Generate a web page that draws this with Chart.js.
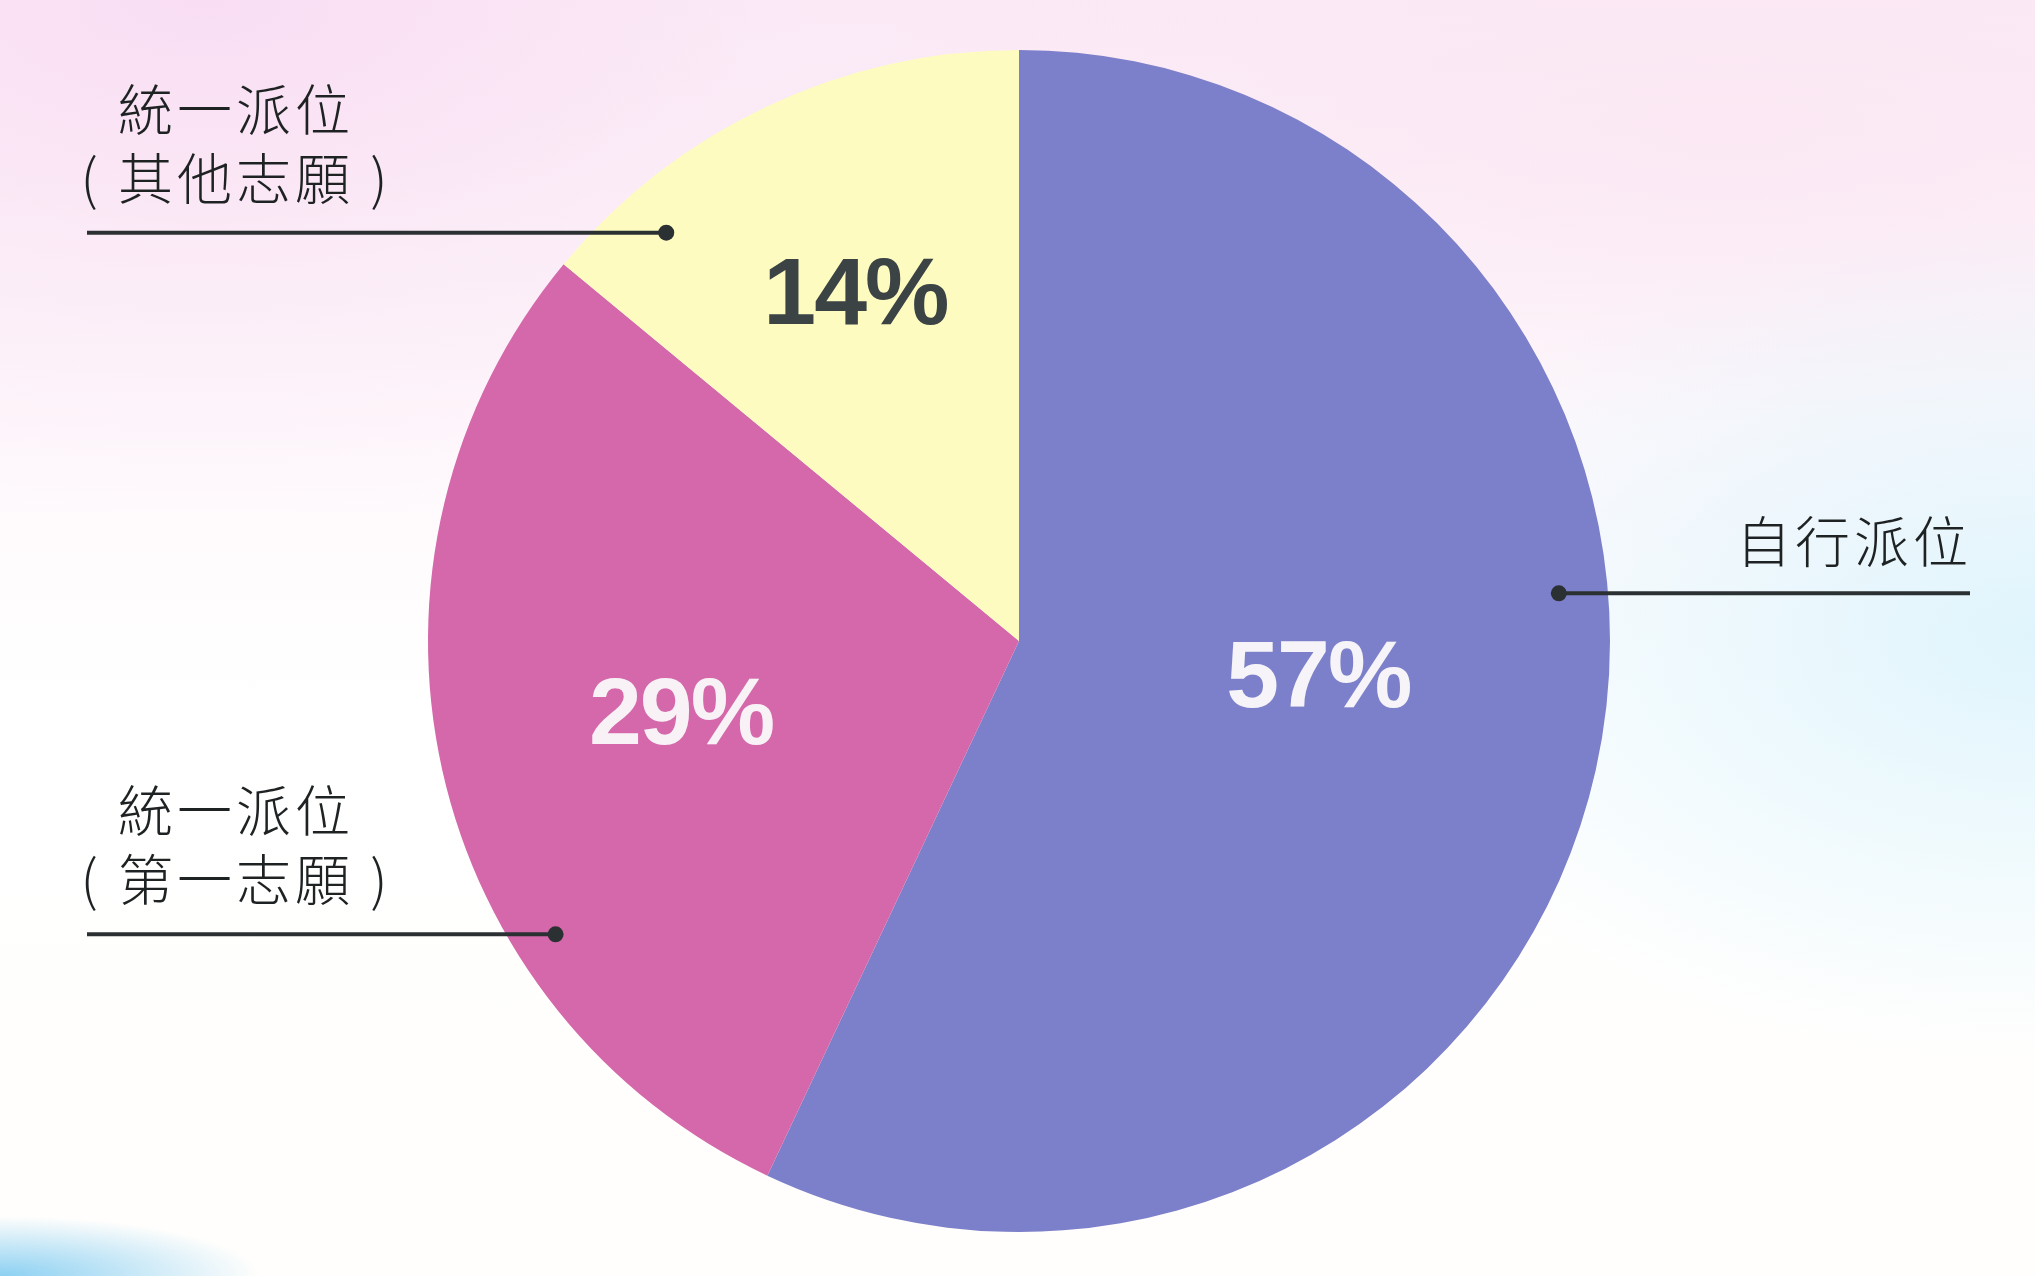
<!DOCTYPE html>
<html>
<head>
<meta charset="utf-8">
<script src="https://cdn.jsdelivr.net/npm/chart.js@4/dist/chart.umd.min.js"></script>
<style>
  html, body { margin: 0; padding: 0; }
  body {
    width: 2035px; height: 1276px; overflow: hidden;
    background:
      radial-gradient(ellipse 260px 60px at 0% 100%, rgba(120,200,240,0.85) 0%, rgba(160,220,245,0) 100%),
      radial-gradient(ellipse 700px 420px at 100% 50%, rgba(222,244,252,0.95) 0%, rgba(230,247,252,0) 100%),
      radial-gradient(ellipse 900px 300px at 85% 10%, rgba(250,230,242,0.8) 0%, rgba(250,230,242,0) 100%),
      radial-gradient(ellipse 1000px 520px at 10% 0%, rgba(249,222,243,1) 0%, rgba(250,232,246,0.6) 55%, rgba(255,255,255,0) 100%),
      linear-gradient(180deg, #fbeaf6 0%, #fef7fb 30%, #ffffff 55%, #fffefc 100%);
  }
  #wrap { position: absolute; left: 0; top: 0; width: 2035px; height: 1276px; }
</style>
</head>
<body>
<div id="wrap"><canvas id="c"></canvas></div>
<script>
// ---- data ----
const categories = ['自行派位', '統一派位（第一志願）', '統一派位（其他志願）'];
const values = [57, 29, 14];
const valueLabels = ['57%', '29%', '14%'];
const calloutLines = [['自行派位'], ['統一派位', '( 第一志願 )'], ['統一派位', '( 其他志願 )']];

// ---- styles ----
const sliceColors = ['#7c7fc9', '#d468ab', '#fdfbc0'];
const valueColors = ['#f6f4f8', '#f8f2f6', '#3b4345'];
// placement of value labels: [angle offset in degrees, radius fraction]
const valuePlace = [[-5.8, 0.51], [0.4, 0.585], [0, 0.65]];
// callout dots: [fraction through slice, radius fraction, side]
const calloutPlace = [[0.414, 0.917, 'right'], [0.311, 0.928, 'left'], [0.19, 0.913, 'left']];
const leftLineEnd = 87, rightLineEnd = 1970;

const labelPlugin = {
  id: 'labelPlugin',
  afterDatasetsDraw(chart) {
    const ctx = chart.ctx;
    const meta = chart.getDatasetMeta(0);
    meta.data.forEach((arc, i) => {
      const p = arc.getProps(['x', 'y', 'startAngle', 'endAngle', 'outerRadius'], true);
      // value label
      const mid = (p.startAngle + p.endAngle) / 2 + valuePlace[i][0] * Math.PI / 180;
      const r = p.outerRadius * valuePlace[i][1];
      ctx.save();
      ctx.font = 'bold 95px "Liberation Sans", Arial, sans-serif';
      ctx.letterSpacing = '-2px';
      ctx.fillStyle = valueColors[i];
      ctx.textAlign = 'center';
      ctx.textBaseline = 'middle';
      ctx.fillText(valueLabels[i], p.x + Math.cos(mid) * r, p.y + Math.sin(mid) * r + 4);
      ctx.restore();

      // callout
      const [frac, rf, side] = calloutPlace[i];
      const a = p.startAngle + (p.endAngle - p.startAngle) * frac;
      const dx = p.x + Math.cos(a) * p.outerRadius * rf;
      const dy = p.y + Math.sin(a) * p.outerRadius * rf;
      const endX = side === 'left' ? leftLineEnd : rightLineEnd;
      ctx.save();
      ctx.strokeStyle = '#2b3033';
      ctx.lineWidth = 4;
      ctx.beginPath();
      ctx.moveTo(dx, dy);
      ctx.lineTo(endX, dy);
      ctx.stroke();
      ctx.fillStyle = '#2b3033';
      ctx.beginPath();
      ctx.arc(dx, dy, 8, 0, Math.PI * 2);
      ctx.fill();

      ctx.font = '300 55px "Noto Sans CJK TC", "Noto Sans CJK JP", sans-serif';
      ctx.letterSpacing = '4px';
      ctx.fillStyle = '#1e2223';
      ctx.textBaseline = 'middle';
      const lines = calloutLines[i];
      if (side === 'left') {
        ctx.textAlign = 'center';
        const cx = endX + 149;
        ctx.fillText(lines[0], cx, dy - 124);
        ctx.fillText(lines[1], cx, dy - 55);
      } else {
        ctx.textAlign = 'right';
        ctx.fillText(lines[0], endX + 2, dy - 52);
      }
      ctx.restore();
    });
  }
};

new Chart(document.getElementById('c'), {
  type: 'pie',
  data: {
    labels: categories,
    datasets: [{
      data: values,
      backgroundColor: sliceColors,
      borderWidth: 0,
      hoverOffset: 0
    }]
  },
  options: {
    responsive: true,
    maintainAspectRatio: false,
    animation: false,
    layout: { padding: { top: 50, bottom: 44, left: 3, right: 0 } },
    plugins: { legend: { display: false }, tooltip: { enabled: false } }
  },
  plugins: [labelPlugin]
});
</script>
</body>
</html>
